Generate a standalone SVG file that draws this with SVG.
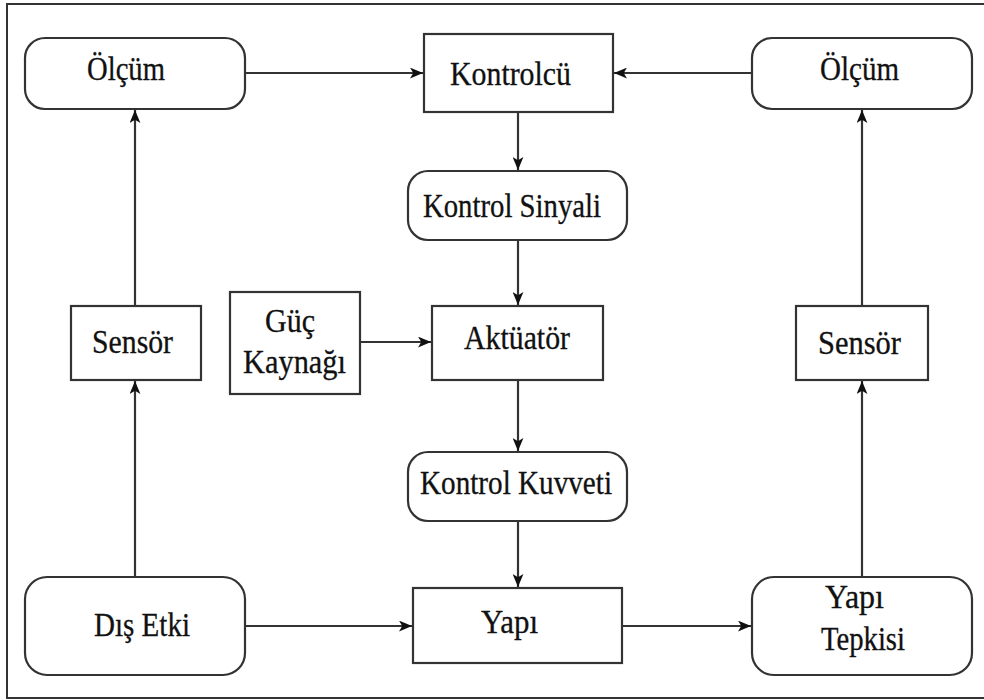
<svg xmlns="http://www.w3.org/2000/svg" width="984" height="700" viewBox="0 0 984 700">
  <defs>
    <marker id="arrow" viewBox="0 0 12 10" refX="12" refY="5" markerWidth="13" markerHeight="11" markerUnits="userSpaceOnUse" orient="auto">
      <path d="M0,0 L12,5 L0,10 L3,5 Z" fill="#111"/>
    </marker>
    <style>
      .box { fill: #fff; stroke: #333; stroke-width: 2.2; }
      .conn { fill: none; stroke: #333; stroke-width: 2.2; marker-end: url(#arrow); }
      text { font-family: 'Liberation Serif', 'Times New Roman', serif; font-size: 33px; fill: #111; stroke: #111; stroke-width: 0.3; }
    </style>
  </defs>

  <rect width="984" height="700" fill="#fff"/>
  <!-- outer frame, open on the right -->
  <path d="M984,4 H7 V698 H984" fill="none" stroke="#333" stroke-width="2"/>

  <g id="connectors">
    <line class="conn" x1="245" y1="73" x2="423" y2="73"/>
    <line class="conn" x1="752" y1="73" x2="614" y2="73"/>
    <line class="conn" x1="518" y1="112" x2="518" y2="170"/>
    <line class="conn" x1="518" y1="240" x2="518" y2="305"/>
    <line class="conn" x1="360" y1="342" x2="431" y2="342"/>
    <line class="conn" x1="518" y1="380" x2="518" y2="451"/>
    <line class="conn" x1="518" y1="521" x2="518" y2="587"/>
    <line class="conn" x1="245" y1="626" x2="412" y2="626"/>
    <line class="conn" x1="622" y1="626" x2="751" y2="626"/>
    <line class="conn" x1="135" y1="577" x2="135" y2="381"/>
    <line class="conn" x1="135" y1="306" x2="135" y2="110"/>
    <line class="conn" x1="862" y1="577" x2="862" y2="381"/>
    <line class="conn" x1="862" y1="306" x2="862" y2="110"/>
  </g>

  <g id="olcum-left">
    <rect class="box" x="25" y="38" width="220" height="71" rx="20"/>
    <text x="87" y="80" textLength="78" lengthAdjust="spacingAndGlyphs">Ölçüm</text>
  </g>
  <g id="kontrolcu">
    <rect class="box" x="424" y="34" width="189" height="78"/>
    <text x="450" y="85" textLength="121" lengthAdjust="spacingAndGlyphs">Kontrolcü</text>
  </g>
  <g id="olcum-right">
    <rect class="box" x="752" y="38" width="220" height="71" rx="20"/>
    <text x="820" y="80" textLength="79" lengthAdjust="spacingAndGlyphs">Ölçüm</text>
  </g>
  <g id="kontrol-sinyali">
    <rect class="box" x="408" y="171" width="219" height="69" rx="20"/>
    <text x="423" y="217" textLength="178" lengthAdjust="spacingAndGlyphs">Kontrol Sinyali</text>
  </g>
  <g id="sensor-left">
    <rect class="box" x="71" y="306" width="130" height="74"/>
    <text x="92" y="353" textLength="81" lengthAdjust="spacingAndGlyphs">Sensör</text>
  </g>
  <g id="guc-kaynagi">
    <rect class="box" x="230" y="292" width="130" height="102"/>
    <text x="265" y="332" textLength="50" lengthAdjust="spacingAndGlyphs">Güç</text>
    <text x="243" y="373" textLength="103" lengthAdjust="spacingAndGlyphs">Kaynağı</text>
  </g>
  <g id="aktuator">
    <rect class="box" x="432" y="306" width="171" height="74"/>
    <text x="464" y="349" textLength="106" lengthAdjust="spacingAndGlyphs">Aktüatör</text>
  </g>
  <g id="sensor-right">
    <rect class="box" x="796" y="306" width="132" height="74"/>
    <text x="818" y="354" textLength="83" lengthAdjust="spacingAndGlyphs">Sensör</text>
  </g>
  <g id="kontrol-kuvveti">
    <rect class="box" x="408" y="452" width="219" height="69" rx="20"/>
    <text x="420" y="494" textLength="192" lengthAdjust="spacingAndGlyphs">Kontrol Kuvveti</text>
  </g>
  <g id="dis-etki">
    <rect class="box" x="25" y="577" width="220" height="98" rx="22"/>
    <text x="94" y="636" textLength="96" lengthAdjust="spacingAndGlyphs">Dış Etki</text>
  </g>
  <g id="yapi">
    <rect class="box" x="413" y="588" width="209" height="75"/>
    <text x="481" y="633" textLength="57" lengthAdjust="spacingAndGlyphs">Yapı</text>
  </g>
  <g id="yapi-tepkisi">
    <rect class="box" x="752" y="577" width="220" height="98" rx="22"/>
    <text x="825" y="608" textLength="59" lengthAdjust="spacingAndGlyphs">Yapı</text>
    <text x="821" y="650" textLength="84" lengthAdjust="spacingAndGlyphs">Tepkisi</text>
  </g>
</svg>
